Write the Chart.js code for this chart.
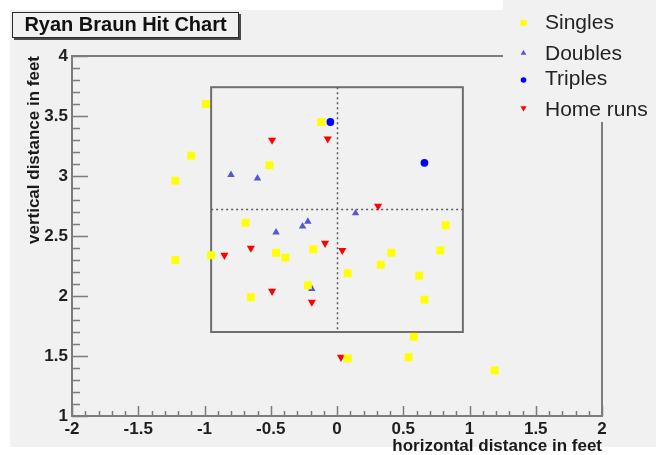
<!DOCTYPE html>
<html>
<head>
<meta charset="utf-8">
<title>Ryan Braun Hit Chart</title>
<script src="https://cdn.jsdelivr.net/npm/chart.js@4/dist/chart.umd.min.js"></script>
<style>
  html, body { margin: 0; padding: 0; background: #ffffff; overflow: hidden; }
  canvas { display: block; }
</style>
</head>
<body>
<canvas id="hits" width="656" height="455"></canvas>
<script>
// Hit locations (feet) by hit type
const singlesX = [-0.99, -0.12, -1.10, -0.51, -1.22, -0.69, 0.82, -1.22, -0.95, -0.46, -0.39, -0.18,
                  0.08, -0.22, -0.65, 0.41, 0.33, 0.62, 0.78, 0.66, 0.58, 0.08, 0.54, 1.19];
const singlesY = [3.60, 3.45, 3.17, 3.09, 2.96, 2.61, 2.59, 2.30, 2.34, 2.36, 2.32, 2.39,
                  2.19, 2.09, 1.99, 2.36, 2.26, 2.17, 2.38, 1.97, 1.66, 1.48, 1.49, 1.38];

const doublesX = [-0.80, -0.60, -0.46, -0.26, -0.22, 0.14, -0.19];
const doublesY = [3.01, 2.98, 2.53, 2.58, 2.62, 2.69, 2.06];

const triplesX = [-0.05, 0.66];
const triplesY = [3.45, 3.11];

const homeRunsX = [-0.49, -0.07, 0.31, -0.85, -0.65, -0.09, 0.04, -0.49, -0.19, 0.03];
const homeRunsY = [3.30, 3.31, 2.75, 2.34, 2.40, 2.44, 2.38, 2.04, 1.95, 1.49];

// Axis ticks
const xTickValues = [-2, -1.5, -1, -0.5, 0, 0.5, 1, 1.5, 2];
const yTickValues = [1, 1.5, 2, 2.5, 3, 3.5, 4];

// Strike zone outline and its centre lines
const zoneX = [-0.95, 0.95];
const zoneY = [1.70, 3.74];
const centreX = 0;
const centreY = 2.725;

const FONT = "'Liberation Sans', Arial, Helvetica, sans-serif";
const BG = '#f1f1f1';

function toPoints(xs, ys) {
  return xs.map((x, i) => ({ x: x, y: ys[i] }));
}

const datasets = [
  { label: 'Singles', data: toPoints(singlesX, singlesY), pointStyle: 'rect',
    pointRadius: 5.6, backgroundColor: '#ffff00', borderColor: '#ffff00', pointBorderWidth: 0,
    legendRadius: 4.2 },
  { label: 'Doubles', data: toPoints(doublesX, doublesY), pointStyle: 'triangle',
    pointRadius: 4.3, backgroundColor: '#5954d8', borderColor: '#5954d8', pointBorderWidth: 0,
    legendRadius: 3.3 },
  { label: 'Triples', data: toPoints(triplesX, triplesY), pointStyle: 'circle',
    pointRadius: 3.9, backgroundColor: '#0000ff', borderColor: '#0000ff', pointBorderWidth: 0,
    legendRadius: 2.8 },
  { label: 'Home runs', data: toPoints(homeRunsX, homeRunsY), pointStyle: 'triangle',
    pointRotation: 180, pointRadius: 4.7, backgroundColor: '#ff0000', borderColor: '#ff0000',
    pointBorderWidth: 0, legendRadius: 3.6 }
];

// Canvas backdrop with its white margin
const backdrop = {
  id: 'backdrop',
  beforeDraw(chart) {
    const ctx = chart.ctx;
    ctx.save();
    ctx.fillStyle = '#ffffff';
    ctx.fillRect(0, 0, chart.width, chart.height);
    ctx.fillStyle = BG;
    ctx.fillRect(10, 10, chart.width - 10, chart.height - 18);
    ctx.restore();
  }
};

// Frame, inward tick marks, strike zone box and dotted centre lines
const frame = {
  id: 'frame',
  beforeDatasetsDraw(chart) {
    const ctx = chart.ctx;
    const xs = chart.scales.x, ys = chart.scales.y;
    const a = chart.chartArea;
    ctx.save();

    // frame
    ctx.strokeStyle = '#7c7c7c';
    ctx.lineWidth = 2;
    ctx.strokeRect(a.left, a.top, a.right - a.left, a.bottom - a.top);

    // tick marks (pointing into the plot)
    ctx.lineWidth = 1.5;
    ctx.beginPath();
    for (let i = 0; i <= 40; i++) {
      const v = -2 + i * 0.1;
      const px = Math.round(xs.getPixelForValue(v)) + 0.5;
      const len = (i % 5 === 0) ? 10 : 5;
      ctx.moveTo(px, a.bottom);
      ctx.lineTo(px, a.bottom - len);
    }
    for (let i = 0; i <= 30; i++) {
      const v = 1 + i * 0.1;
      const py = Math.round(ys.getPixelForValue(v)) + 0.5;
      const len = (i % 5 === 0) ? 16 : 8;
      ctx.moveTo(a.left, py);
      ctx.lineTo(a.left + len, py);
    }
    ctx.stroke();

    // strike zone
    const zl = xs.getPixelForValue(zoneX[0]), zr = xs.getPixelForValue(zoneX[1]);
    const zt = ys.getPixelForValue(zoneY[1]), zb = ys.getPixelForValue(zoneY[0]);
    ctx.strokeStyle = '#6f6f6f';
    ctx.lineWidth = 2;
    ctx.strokeRect(zl, zt, zr - zl, zb - zt);

    // dotted centre lines
    ctx.strokeStyle = '#5a5a5a';
    ctx.lineWidth = 1.5;
    ctx.setLineDash([2, 3]);
    const cx = Math.round(xs.getPixelForValue(centreX)) + 0.5;
    const cy = Math.round(ys.getPixelForValue(centreY)) + 0.5;
    ctx.beginPath();
    ctx.moveTo(cx, zt);
    ctx.lineTo(cx, zb);
    ctx.moveTo(zl, cy);
    ctx.lineTo(zr, cy);
    ctx.stroke();
    ctx.restore();
  }
};

// Title box, axis titles and legend
const annotations = {
  id: 'annotations',
  afterDraw(chart) {
    const ctx = chart.ctx;
    const a = chart.chartArea;
    ctx.save();

    // title box with drop shadow
    ctx.fillStyle = '#4a4a4a';
    ctx.fillRect(14, 14, 227, 26);
    ctx.fillStyle = BG;
    ctx.fillRect(12, 12, 227, 26);
    ctx.strokeStyle = '#2b2b2b';
    ctx.lineWidth = 1;
    ctx.strokeRect(12.5, 12.5, 226, 25);
    ctx.fillStyle = '#111111';
    ctx.font = 'bold 20px ' + FONT;
    ctx.textAlign = 'center';
    ctx.textBaseline = 'middle';
    ctx.fillText('Ryan Braun Hit Chart', 125.5, 25.5);

    // axis titles
    ctx.font = 'bold 17px ' + FONT;
    ctx.fillStyle = '#1a1a1a';
    ctx.textAlign = 'right';
    ctx.textBaseline = 'alphabetic';
    ctx.fillText('horizontal distance in feet', a.right, 451);
    ctx.save();
    ctx.translate(39, a.top);
    ctx.rotate(-Math.PI / 2);
    ctx.fillText('vertical distance in feet', 0, 0);
    ctx.restore();

    // legend panel
    ctx.fillStyle = BG;
    ctx.fillRect(503, 0, chart.width - 503, 122);
    const rowsText = [23, 54, 79, 110];
    const rowsMark = [23, 53, 80, 108];
    ctx.font = '21px ' + FONT;
    ctx.textAlign = 'left';
    ctx.textBaseline = 'middle';
    chart.data.datasets.forEach((ds, i) => {
      ctx.fillStyle = ds.backgroundColor;
      ctx.strokeStyle = ds.borderColor;
      Chart.helpers.drawPoint(ctx, {
        pointStyle: ds.pointStyle,
        radius: ds.legendRadius,
        rotation: ds.pointRotation || 0,
        borderWidth: 0
      }, 523.5, rowsMark[i]);
      ctx.fillStyle = '#232323';
      ctx.fillText(ds.label, 545, rowsText[i]);
    });
    ctx.restore();
  }
};

const tickFont = { family: FONT, size: 17, weight: 'bold' };

new Chart(document.getElementById('hits'), {
  type: 'scatter',
  data: { datasets: datasets },
  options: {
    responsive: false,
    animation: false,
    events: [],
    layout: { padding: { left: 0, right: 54, top: 56, bottom: 0 } },
    plugins: {
      legend: { display: false },
      tooltip: { enabled: false },
      title: { display: false }
    },
    scales: {
      x: {
        type: 'linear',
        position: 'bottom',
        min: -2,
        max: 2,
        grid: { display: false, drawTicks: false },
        border: { display: false },
        ticks: {
          autoSkip: false,
          maxRotation: 0,
          padding: 3,
          color: '#1e1e1e',
          font: tickFont,
          callback: (v) => String(v)
        },
        afterBuildTicks(scale) { scale.ticks = xTickValues.map(v => ({ value: v })); },
        afterFit(scale) { scale.height = 39; }
      },
      y: {
        type: 'linear',
        position: 'left',
        min: 1,
        max: 4,
        grid: { display: false, drawTicks: false },
        border: { display: false },
        ticks: {
          autoSkip: false,
          padding: 4,
          color: '#1e1e1e',
          font: tickFont,
          callback: (v) => String(v)
        },
        afterBuildTicks(scale) { scale.ticks = yTickValues.map(v => ({ value: v })); },
        afterFit(scale) { scale.width = 72; }
      }
    }
  },
  plugins: [backdrop, frame, annotations]
});
</script>
</body>
</html>
